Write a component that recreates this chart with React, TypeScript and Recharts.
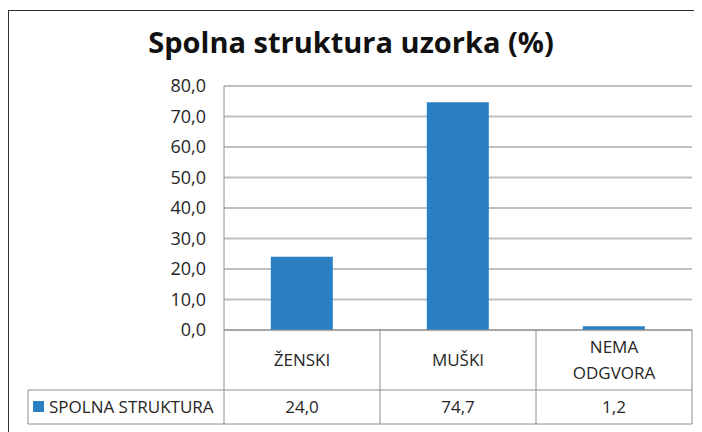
import { BarChart, Bar, XAxis, YAxis, CartesianGrid } from "recharts";

const categories = ["ŽENSKI", "MUŠKI", "NEMA\nODGVORA"];
const values = [24.0, 74.7, 1.2];
const seriesName = "SPOLNA STRUKTURA";
const yTicks = [0, 10, 20, 30, 40, 50, 60, 70, 80];

const data = categories.map((category, i) => ({ category, value: values[i] }));

const W = 702;
const H = 432;
const PLOT_LEFT = 224;
const PLOT_RIGHT = 692;
const ROW_SPLIT = 390;
const TABLE_BOTTOM = 424;
const TABLE_LEFT = 28;
const LINE = "#8e8e8e";
const BLUE = "#2a80c3";
const TEXT = "#262626";
const FONT = "'Open Sans', sans-serif";

const fmt = (v: number) => v.toFixed(1).replace(".", ",");

// x axis tick doubles as the data table below the plot
function TableTick(props: any) {
  const { x, y, payload, index } = props;
  const half = (PLOT_RIGHT - PLOT_LEFT) / categories.length / 2;
  const lines = String(payload.value).split("\n");
  const midY = (y + ROW_SPLIT) / 2;
  const lh = 26;
  const fs = 17;
  const valueY = (ROW_SPLIT + TABLE_BOTTOM) / 2;

  return (
    <g>
      {index === 0 && (
        <g>
          <line x1={x - half} x2={x - half} y1={y} y2={TABLE_BOTTOM} stroke={LINE} />
          <line x1={TABLE_LEFT} x2={PLOT_RIGHT} y1={ROW_SPLIT} y2={ROW_SPLIT} stroke={LINE} />
          <line x1={TABLE_LEFT} x2={PLOT_RIGHT} y1={TABLE_BOTTOM} y2={TABLE_BOTTOM} stroke={LINE} />
          <line x1={TABLE_LEFT} x2={TABLE_LEFT} y1={ROW_SPLIT} y2={TABLE_BOTTOM} stroke={LINE} />
          <rect x={33} y={valueY - 6} width={11} height={11} fill={BLUE} />
          <text x={49} y={valueY + fs * 0.35} fontSize={fs} fill={TEXT} fontFamily={FONT}>
            {seriesName}
          </text>
        </g>
      )}
      <line x1={x + half} x2={x + half} y1={y} y2={TABLE_BOTTOM} stroke={LINE} />
      <text textAnchor="middle" fontSize={fs} fill={TEXT} fontFamily={FONT}>
        {lines.map((l, i) => (
          <tspan key={i} x={x} y={midY + (i - (lines.length - 1) / 2) * lh + fs * 0.35}>
            {l}
          </tspan>
        ))}
      </text>
      <text x={x} y={valueY + fs * 0.35} textAnchor="middle" fontSize={fs} fill={TEXT} fontFamily={FONT}>
        {fmt(values[index])}
      </text>
    </g>
  );
}

export default function App() {
  return (
    <div style={{ position: "relative", width: 694, height: 424 }}>
      <div
        style={{
          position: "absolute",
          left: 0,
          top: 2,
          width: 694,
          height: 422,
          borderLeft: "1.5px solid #2e2e2e",
          borderTop: "1.5px solid #2e2e2e",
          boxSizing: "border-box",
        }}
      />
      <div
        style={{
          position: "absolute",
          left: -8,
          top: 14,
          width: W,
          textAlign: "center",
          fontFamily: FONT,
          fontWeight: 700,
          fontSize: 29,
          lineHeight: "40px",
          color: "#111",
        }}
      >
        Spolna struktura uzorka (%)
      </div>
      <div style={{ position: "absolute", left: -8, top: -8 }}>
        <BarChart
          width={W}
          height={H}
          data={data}
          margin={{ top: 86, right: W - PLOT_RIGHT, left: PLOT_LEFT - 60, bottom: 8 }}
          barCategoryGap="30%"
        >
          <CartesianGrid vertical={false} stroke="#c0c0c0" strokeWidth={2} />
          <XAxis
            dataKey="category"
            height={94}
            interval={0}
            tickLine={false}
            tickSize={0}
            tickMargin={0}
            axisLine={{ stroke: LINE }}
            tick={<TableTick />}
          />
          <YAxis
            width={60}
            domain={[0, 80]}
            ticks={yTicks}
            tickFormatter={fmt}
            tickLine={false}
            tickSize={0}
            tickMargin={18}
            axisLine={{ stroke: LINE }}
            tick={{ fill: TEXT, fontSize: 18, fontFamily: FONT }}
          />
          <Bar dataKey="value" fill={BLUE} isAnimationActive={false} />
        </BarChart>
      </div>
    </div>
  );
}
